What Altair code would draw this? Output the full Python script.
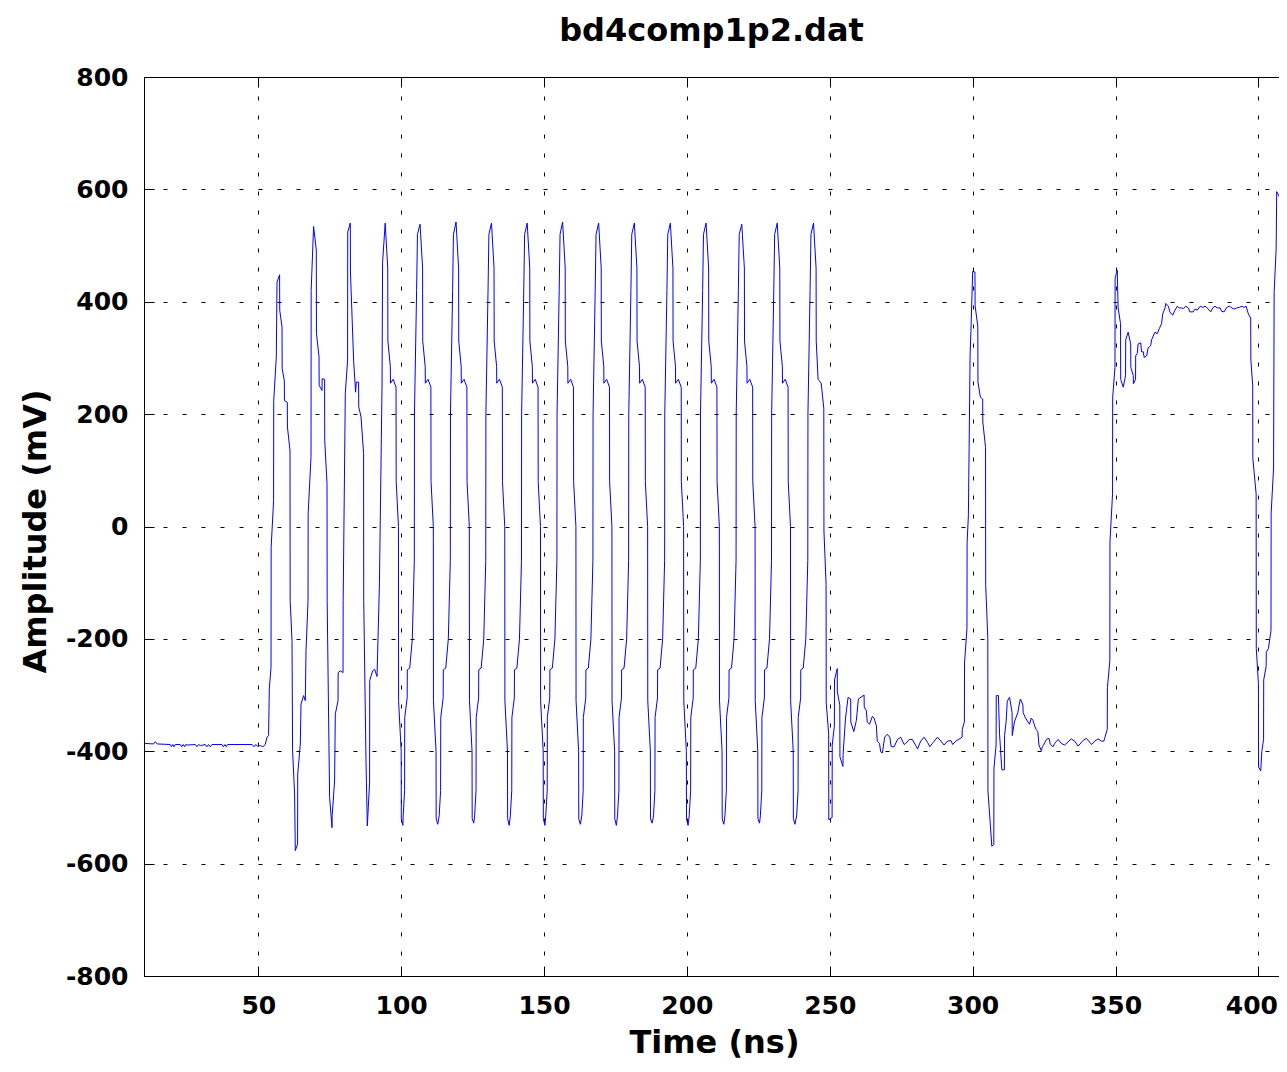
import altair as alt
import pandas as pd

# ---- tick labels / axis ranges -------------------------------------------
x_ticks = [50, 100, 150, 200, 250, 300, 350, 400]
y_ticks = [-800, -600, -400, -200, 0, 200, 400, 600, 800]
x_range = [10, 407.2]
y_range = [-800, 800]

# ---- waveform, (time ns, amplitude mV) ------------------------------------
pre_trigger = [
    (10.0, -386), (13.3, -387), (13.95, -383), (14.6, -387), (19.2, -388), (19.6, -392),
    (20.1, -388), (20.5, -392), (20.95, -388), (22.7, -388), (23.2, -392), (23.7, -388),
    (24.2, -392), (24.6, -388), (25.05, -389), (27.95, -388), (28.5, -392), (29.1, -388),
    (29.7, -390), (31.45, -388), (32.0, -392), (32.6, -388), (33.2, -392), (33.8, -388),
    (37.3, -388), (37.8, -392), (38.3, -388), (38.8, -392), (39.25, -388), (47.8, -388),
    (48.5, -392), (49.1, -388), (49.7, -391), (50.8, -390), (51.6, -392), (52.45, -388),
]

first_pulse = [
    (53.05, -375), (53.6, -372), (53.85, -289), (54.45, -251), (54.5, -37), (55.35, 46),
    (55.4, 224), (56.3, 302), (56.55, 435), (57.45, 448), (57.5, 385), (58.3, 355),
    (58.35, 281), (59.1, 260), (59.15, 224), (60.15, 221), (60.2, 177), (61.1, 135),
    (61.15, -132), (61.8, -203), (62.0, -399), (62.7, -476), (62.95, -577), (63.75, -565),
    (63.8, -441), (64.7, -387), (64.95, -316), (65.85, -301), (66.45, -310), (66.7, -221),
    (67.4, -132), (67.45, 23), (68.45, 124), (68.5, 420), (69.35, 534),
]

burst = [
    (70.3, 492), (70.35, 344), (71.25, 302), (71.3, 251), (72.3, 242), (72.35, 263),
    (73.2, 262), (73.25, 153), (74.05, 76), (74.1, -132), (74.95, -482), (75.8, -536),
    (75.85, -515), (76.7, -453), (76.95, -334), (77.9, -310), (77.95, -260), (78.7, -257),
    (79.65, -260), (79.7, -132), (80.45, 237), (81.25, 296), (81.3, 524), (82.2, 540),
    (82.25, 453), (83.35, 296), (84.05, 239), (84.3, 257), (85.1, 257), (85.15, 213),
    (85.95, 195), (86.85, 130), (86.9, -132), (87.7, -420), (88.15, -533),
    (88.95, -455), (89.0, -274), (90.0, -257), (90.7, -254), (91.55, -267), (92.4, -100),
    (93.3, 250), (93.5, 470), (94.4, 540),
    (95.3, 460), (95.35, 330), (96.2, 285), (96.25, 255), (97.2, 262), (98.2, 248),
    (98.25, 80), (99.05, 0), (99.1, -310), (100.0, -400), (100.05, -520), (100.6, -532),
    (100.7, -515), (101.2, -470), (101.25, -340), (102.1, -305), (102.15, -255), (103.0, -252),
    (103.9, -200), (104.6, -60), (104.65, 200), (105.4, 420), (105.7, 520), (106.6, 538),
    (107.5, 460), (107.55, 330), (108.4, 285), (108.45, 255), (109.4, 262), (110.4, 248),
    (110.45, 80), (111.25, 0), (111.3, -310), (112.2, -400), (112.25, -520), (112.8, -530),
    (113.3, -515), (113.8, -470), (113.85, -340), (114.7, -305), (114.75, -255), (115.6, -252),
    (116.5, -200), (117.2, -60), (117.25, 200), (118.0, 420), (118.3, 520), (119.2, 542),
    (120.1, 460), (120.15, 330), (121.0, 285), (121.05, 255), (122.0, 262), (123.0, 248),
    (123.05, 80), (123.85, 0), (123.9, -310), (124.8, -400), (124.85, -520), (125.4, -528),
    (125.7, -515), (126.2, -470), (126.25, -340), (127.1, -305), (127.15, -255), (128.0, -252),
    (128.9, -200), (129.6, -60), (129.65, 200), (130.4, 420), (130.7, 520), (131.6, 540),
    (132.5, 460), (132.55, 330), (133.4, 285), (133.45, 255), (134.4, 262), (135.4, 248),
    (135.45, 80), (136.25, 0), (136.3, -310), (137.2, -400), (137.25, -520), (137.8, -532),
    (138.2, -515), (138.7, -470), (138.75, -340), (139.6, -305), (139.65, -255), (140.5, -252),
    (141.4, -200), (142.1, -60), (142.15, 200), (142.9, 420), (143.2, 520), (144.1, 540),
    (145.0, 460), (145.05, 330), (145.9, 285), (145.95, 255), (146.9, 262), (147.9, 248),
    (147.95, 80), (148.75, 0), (148.8, -310), (149.7, -400), (149.75, -520), (150.3, -532),
    (150.6, -515), (151.1, -470), (151.15, -340), (152.0, -305), (152.05, -255), (152.9, -252),
    (153.8, -200), (154.5, -60), (154.55, 200), (155.3, 420), (155.6, 520), (156.5, 542),
    (157.4, 460), (157.45, 330), (158.3, 285), (158.35, 255), (159.3, 262), (160.3, 248),
    (160.35, 80), (161.15, 0), (161.2, -310), (162.1, -400), (162.15, -520), (162.7, -530),
    (163.2, -515), (163.7, -470), (163.75, -340), (164.6, -305), (164.65, -255), (165.5, -252),
    (166.4, -200), (167.1, -60), (167.15, 200), (167.9, 420), (168.2, 520), (169.1, 540),
    (170.0, 460), (170.05, 330), (170.9, 285), (170.95, 255), (171.9, 262), (172.9, 248),
    (172.95, 80), (173.75, 0), (173.8, -310), (174.7, -400), (174.75, -520), (175.3, -532),
    (175.7, -515), (176.2, -470), (176.25, -340), (177.1, -305), (177.15, -255), (178.0, -252),
    (178.9, -200), (179.6, -60), (179.65, 200), (180.4, 420), (180.7, 520), (181.6, 540),
    (182.5, 460), (182.55, 330), (183.4, 285), (183.45, 255), (184.4, 262), (185.4, 248),
    (185.45, 80), (186.25, 0), (186.3, -310), (187.2, -400), (187.25, -520), (187.8, -528),
    (188.3, -515), (188.8, -470), (188.85, -340), (189.7, -305), (189.75, -255), (190.6, -252),
    (191.5, -200), (192.2, -60), (192.25, 200), (193.0, 420), (193.3, 520), (194.2, 540),
    (195.1, 460), (195.15, 330), (196.0, 285), (196.05, 255), (197.0, 262), (198.0, 248),
    (198.05, 80), (198.85, 0), (198.9, -310), (199.8, -400), (199.85, -520), (200.4, -532),
    (200.8, -515), (201.3, -470), (201.35, -340), (202.2, -305), (202.25, -255), (203.1, -252),
    (204.0, -200), (204.7, -60), (204.75, 200), (205.5, 420), (205.8, 520), (206.7, 540),
    (207.6, 460), (207.65, 330), (208.5, 285), (208.55, 255), (209.5, 262), (210.5, 248),
    (210.55, 80), (211.35, 0), (211.4, -310), (212.3, -400), (212.35, -520), (212.9, -530),
    (213.3, -515), (213.8, -470), (213.85, -340), (214.7, -305), (214.75, -255), (215.6, -252),
    (216.5, -200), (217.2, -60), (217.25, 200), (218.0, 420), (218.3, 520), (219.2, 538),
    (220.1, 460), (220.15, 330), (221.0, 285), (221.05, 255), (222.0, 262), (223.0, 248),
    (223.05, 80), (223.85, 0), (223.9, -310), (224.8, -400), (224.85, -520), (225.4, -528),
    (225.7, -515), (226.2, -470), (226.25, -340), (227.1, -305), (227.15, -255), (228.0, -252),
    (228.9, -200), (229.6, -60), (229.65, 200), (230.4, 420), (230.7, 520), (231.6, 540),
    (232.5, 460), (232.55, 330), (233.4, 285), (233.45, 255), (234.4, 262), (235.4, 248),
    (235.45, 80), (236.25, 0), (236.3, -310), (237.2, -400), (237.25, -520), (237.8, -530),
    (238.4, -515), (238.9, -470), (238.95, -340), (239.8, -305), (239.85, -255), (240.7, -252),
    (241.6, -200), (242.3, -60), (242.35, 200), (243.1, 420), (243.4, 520), (244.3, 540),
    (245.2, 460), (245.25, 330), (245.9, 262), (247.0, 255), (247.9, 210), (247.95, -8),
    (248.7, -103), (248.75, -314), (249.6, -369), (249.65, -522), (250.8, -518),
]

ringing_1 = [
    (250.85, -389), (251.6, -355), (251.65, -273), (252.6, -253), (252.65, -294), (253.5, -318),
    (253.55, -410), (254.6, -427), (254.65, -406), (255.5, -341), (256.4, -304), (257.3, -307),
    (257.35, -348), (258.4, -365), (259.3, -345), (260.0, -307), (262.0, -300), (262.05, -321),
    (262.8, -328), (263.1, -348), (263.9, -352), (264.9, -338), (265.5, -341), (266.3, -355),
    (266.6, -382), (267.4, -386), (267.8, -401), (268.4, -403), (269.2, -375), (270.1, -370),
    (271.0, -375), (271.5, -392), (272.5, -392), (273.7, -379), (274.8, -375), (276.0, -388),
    (276.6, -386), (277.8, -379), (278.9, -379), (280.1, -390), (280.7, -396), (281.8, -382),
    (283.0, -375), (284.2, -384), (285.0, -392), (285.9, -386), (287.7, -375), (288.9, -382),
    (290.0, -389), (291.2, -382), (292.4, -381), (293.0, -388), (294.1, -382), (296.3, -375),
]

pulse_300 = [
    (296.35, -361), (297.1, -348), (297.15, -243), (298.0, -182), (298.05, -29), (298.5, 19),
    (299.1, 305), (299.4, 349), (300.0, 454), (300.8, 453), (300.85, 393), (301.8, 356),
    (301.85, 257), (302.7, 230), (303.5, 227), (303.55, 186), (304.5, 141), (304.55, -103),
    (305.3, -199), (305.35, -471), (306.1, -525), (306.7, -569), (307.4, -566), (307.45, -430),
]

ringing_2 = [
    (308.2, -389), (308.25, -301), (309.0, -301), (309.4, -369), (310.2, -433), (311.1, -433),
    (311.15, -372), (311.7, -348), (312.1, -311), (312.9, -304), (313.8, -331), (313.85, -372),
    (314.6, -348), (315.8, -331), (316.4, -314), (316.7, -307), (317.6, -318), (317.65, -331),
    (318.5, -341), (319.9, -352), (320.5, -341), (321.1, -345), (321.7, -355), (322.2, -361),
    (322.8, -365), (323.2, -389), (324.0, -399), (324.4, -392), (324.8, -389), (325.8, -379),
    (326.7, -377), (327.2, -388), (328.1, -392), (328.7, -386), (329.9, -379), (331.0, -386),
    (332.2, -389), (334.5, -378), (335.7, -382), (336.9, -391), (338.6, -381), (339.8, -377),
    (341.6, -388), (342.7, -382), (343.9, -378), (345.1, -382), (345.9, -382), (346.3, -375),
]

step_350 = [
    (347.1, -361), (347.15, -287), (348.0, -239), (348.05, -27), (348.95, 58), (349.0, 230),
    (349.8, 283), (349.85, 442), (350.6, 456), (350.9, 389), (351.75, 361), (351.8, 262),
    (352.7, 248), (353.5, 269), (353.55, 332), (354.4, 346), (355.3, 325), (355.35, 283),
    (356.2, 269), (356.25, 254), (357.0, 262), (357.05, 304), (357.6, 308), (357.9, 325),
    (358.8, 327), (359.1, 311), (359.7, 311), (360.0, 301), (360.9, 304), (361.4, 318),
    (362.3, 322), (362.6, 332), (363.2, 339), (363.8, 346), (364.6, 343), (365.3, 352),
    (366.1, 361), (366.5, 378), (367.3, 389), (367.6, 397), (368.5, 392), (369.0, 382),
    (370.0, 376), (370.8, 385), (371.6, 392), (372.3, 389), (373.1, 389), (373.8, 388),
    (374.6, 392), (375.5, 389), (376.0, 382), (377.2, 382), (377.8, 387), (378.6, 385),
    (379.6, 392), (380.5, 390), (381.3, 392), (382.1, 389), (383.3, 382), (384.0, 389),
    (384.8, 392), (385.6, 389), (386.6, 389), (387.1, 383), (388.0, 382), (388.9, 390),
    (389.8, 392), (390.7, 389), (391.5, 387), (392.4, 389), (393.3, 390), (394.2, 392),
    (395.0, 390), (395.7, 392), (396.5, 378), (397.3, 371),
]

tail_400 = [
    (397.35, 297), (398.0, 251), (398.05, 121), (399.2, 58), (399.25, -217), (400.0, -280),
    (400.05, -428), (400.8, -435), (401.2, -400), (401.8, -379), (401.85, -273), (402.7, -249),
    (402.75, -224), (403.5, -217), (404.4, -185), (404.45, 23), (405.3, 104), (405.5, 417),
    (406.2, 494), (406.4, 596), (407.4, 586), (407.45, 508), (408.2, 452), (408.25, 325),
    (409.0, 311), (409.05, 343), (410.0, 368),
]

rows = pre_trigger + first_pulse + burst + ringing_1 + pulse_300 + ringing_2 + step_350 + tail_400
df = pd.DataFrame(rows, columns=["t", "v"])
df["i"] = range(len(df))

frame_df = pd.DataFrame({"t": x_range, "v": y_range})

FONT = "DejaVu Sans"
BLACK = "#000000"
xscale = alt.Scale(domain=x_range, nice=False, zero=False)
yscale = alt.Scale(domain=y_range, nice=False, zero=False)

grid_kw = dict(grid=True, gridColor=BLACK, gridDash=[4, 15], gridWidth=1, gridOpacity=1)
label_kw = dict(labelFont=FONT, labelFontSize=25, labelFontWeight="bold", labelColor=BLACK,
                labelExpr="toString(datum.value)", labelOverlap=False)
title_kw = dict(titleFont=FONT, titleFontSize=32, titleFontWeight="bold", titleColor=BLACK,
                titleBaseline="alphabetic", titleAlign="center")
domain_kw = dict(domain=True, domainColor=BLACK, domainWidth=1)

x_main = alt.Axis(values=x_ticks, orient="bottom", ticks=False, labelPadding=17,
                  labelOffset={"condition": {"test": "datum.value == 400", "value": -7}, "value": 0},
                  title="Time (ns)", titleX=570, titleY=76,
                  **domain_kw, **grid_kw, **label_kw, **title_kw)
y_main = alt.Axis(values=y_ticks, orient="left", ticks=False, labelPadding=16,
                  title="Amplitude (mV)", titleX=-99, titleY=454, titleAngle=270,
                  **domain_kw, **grid_kw, **label_kw, **title_kw)

tick_kw = dict(ticks=True, tickSize=10, tickColor=BLACK, tickWidth=1, offset=-10,
               labels=False, domain=False, grid=False)

line = alt.Chart(df).mark_line(color="#0000ff", strokeWidth=1, clip=True).encode(
    x=alt.X("t:Q", scale=xscale, axis=x_main),
    y=alt.Y("v:Q", scale=yscale, axis=y_main),
    order=alt.Order("i:Q"),
)

# inward ticks on the bottom and left edges
ticks_bl = alt.Chart(frame_df).mark_point(opacity=0).encode(
    x=alt.X("t:Q", scale=xscale, title=None, axis=alt.Axis(values=x_ticks, orient="bottom", **tick_kw)),
    y=alt.Y("v:Q", scale=yscale, title=None, axis=alt.Axis(values=y_ticks, orient="left", **tick_kw)),
)

# inward ticks on the top edge
ticks_t = alt.Chart(frame_df).mark_point(opacity=0).encode(
    x=alt.X("t:Q", scale=xscale, title=None, axis=alt.Axis(values=x_ticks, orient="top", **tick_kw)),
    y=alt.Y("v:Q", scale=yscale, axis=None),
)

# top border of the box
border_t = alt.Chart(frame_df).mark_point(opacity=0).encode(
    x=alt.X("t:Q", scale=xscale, title=None,
            axis=alt.Axis(values=x_ticks, orient="top", ticks=False, labels=False, grid=False, **domain_kw)),
    y=alt.Y("v:Q", scale=yscale, axis=None),
)

chart = (
    alt.layer(line, ticks_bl, ticks_t, border_t)
    .resolve_axis(x="independent", y="independent")
    .properties(
        width=1135,
        height=899,
        autosize=alt.AutoSizeParams(type="none"),
        padding={"left": 136, "top": 69, "right": 0, "bottom": 84},
        title=alt.TitleParams("bd4comp1p2.dat", font=FONT, fontSize=32, fontWeight="bold",
                              color=BLACK, anchor="middle", frame="group",
                              baseline="alphabetic", offset=24, dy=32),
    )
    .configure_view(strokeWidth=0)
    .configure(background="white")
)

chart.save("out.html", embed_options={"renderer": "svg", "actions": False})
